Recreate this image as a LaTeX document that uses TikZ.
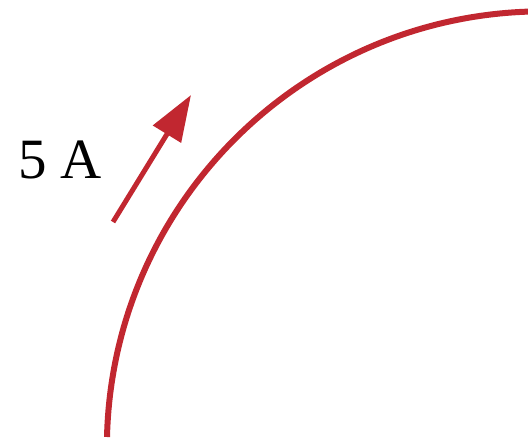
\documentclass[tikz,border=0pt]{standalone}
\usepackage{fontspec}
\setmainfont{Liberation Serif}
\usetikzlibrary{arrows.meta}
\definecolor{wirered}{RGB}{193,39,48}
\tikzset{
  wire/.style={draw=wirered, line width=6pt},
  current/.style={draw=wirered, fill=wirered, line width=5pt, -{Triangle[length=46pt,width=32pt]}},
  lbl/.style={font=\fontsize{57pt}{60pt}\selectfont, inner sep=0pt}
}
\begin{document}
\begin{tikzpicture}[x=1pt,y=-1pt]
\useasboundingbox (0,0) rectangle (528,441);
\draw[wire] (107,437) arc[start angle=181.4, end angle=268, radius=436.3];
\coordinate (tail) at (113,222);
\coordinate (tip) at (191,95);
\draw[current] (tail) -- (tip);
\node[lbl] (label) at (60,160) {5 A};
\end{tikzpicture}
\end{document}
